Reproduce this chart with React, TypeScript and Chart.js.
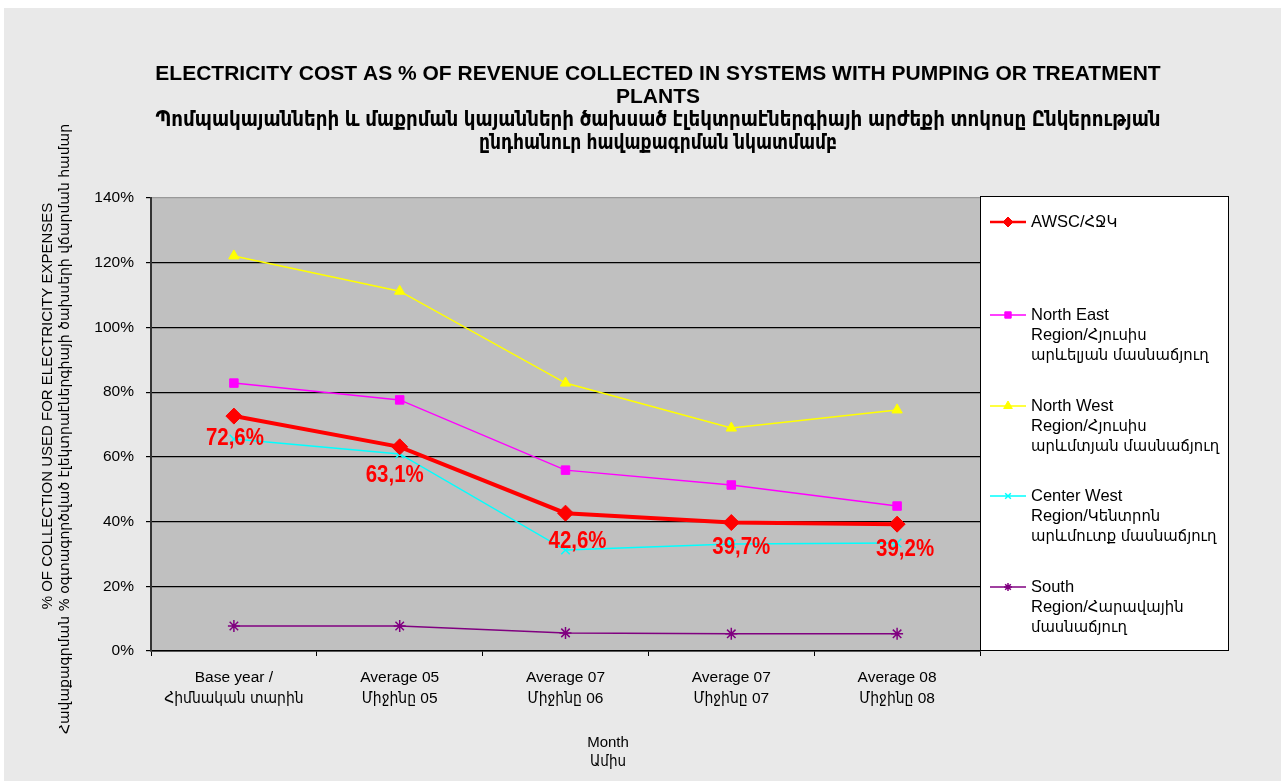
import React, { useEffect, useRef } from "react";
import { Chart, registerables } from "chart.js";
import { drawPoint } from "chart.js/helpers";

Chart.register(...registerables);

const categories: string[][] = [
  ["Base year /", "Հիմնական տարին"],
  ["Average 05", "Միջինը 05"],
  ["Average 07", "Միջինը 06"],
  ["Average 07", "Միջինը 07"],
  ["Average 08", "Միջինը 08"],
];

const awsc = [72.6, 63.1, 42.6, 39.7, 39.2];
const northEast = [82.8, 77.6, 55.9, 51.3, 44.8];
const northWest = [122.1, 111.2, 82.8, 68.9, 74.5];
const centerWest = [65.5, 60.9, 31.2, 33.1, 33.4];
const south = [7.7, 7.7, 5.6, 5.3, 5.3];

const yTicks = [0, 20, 40, 60, 80, 100, 120, 140];

const titleLines = [
  "ELECTRICITY COST AS % OF REVENUE COLLECTED IN SYSTEMS WITH PUMPING OR TREATMENT",
  "PLANTS",
  "Պոմպակայանների և մաքրման կայանների ծախսած էլեկտրաէներգիայի արժեքի տոկոսը Ընկերության",
  "ընդհանուր հավաքագրման նկատմամբ",
];
const yTitleLines = [
  "% OF COLLECTION USED FOR ELECTRICITY EXPENSES",
  "Հավաքագրման % օգտագործված էլեկտրաէներգիայի ծախսերի վճարման համար",
];
const xTitleLines = ["Month", "Ամիս"];

const legendLabels: string[][] = [
  ["AWSC/ՀՋԿ"],
  ["North East", "Region/Հյուսիս", "արևելյան մասնաճյուղ"],
  ["North West", "Region/Հյուսիս", "արևմտյան մասնաճյուղ"],
  ["Center West", "Region/Կենտրոն", "արևմուտք մասնաճյուղ"],
  ["South", "Region/Հարավային", "մասնաճյուղ"],
];

const FONT = "'Liberation Sans', 'DejaVu Sans Condensed', 'DejaVu Sans', sans-serif";
const ARM = "'DejaVu Sans', sans-serif";

const W = 1281;
const H = 781;

export default function App() {
  const ref = useRef<HTMLCanvasElement | null>(null);

  useEffect(() => {
    if (!ref.current) return;

    const decor = {
      id: "decor",
      beforeDraw(chart: any) {
        const { ctx, chartArea } = chart;
        ctx.save();
        ctx.fillStyle = "#ffffff";
        ctx.fillRect(0, 0, W, H);
        ctx.fillStyle = "#e9e9e9";
        ctx.fillRect(4, 8, W - 4, H - 8);
        ctx.fillStyle = "#c0c0c0";
        ctx.fillRect(chartArea.left, chartArea.top, chartArea.right - chartArea.left, chartArea.bottom - chartArea.top);
        ctx.restore();
      },
      afterDraw(chart: any) {
        const { ctx } = chart;
        ctx.save();
        // Title
        ctx.fillStyle = "#000";
        ctx.textAlign = "center";
        ctx.textBaseline = "middle";
        const ty = [74, 97, 120, 143];
        const tw = [1013, 0, 1005, 358];
        titleLines.forEach((t, i) => {
          ctx.font = `bold 21px ${FONT}`;
          if (tw[i]) ctx.fillText(t, 658, ty[i], tw[i]);
          else ctx.fillText(t, 658, ty[i]);
        });
        // Y title
        ctx.save();
        ctx.translate(48, 406);
        ctx.rotate(-Math.PI / 2);
        ctx.font = `15px 'Liberation Sans', Arial, sans-serif`;
        ctx.fillText(yTitleLines[0], 0, 0);
        ctx.font = `14px ${ARM}`;
        ctx.fillText(yTitleLines[1], -23, 17);
        ctx.restore();
        // X title
        ctx.font = `15px ${FONT}`;
        ctx.fillText(xTitleLines[0], 608, 743);
        ctx.fillText(xTitleLines[1], 608, 762);

        // Data labels for AWSC
        const meta = chart.getDatasetMeta(0);
        ctx.font = `bold 23px ${FONT}`;
        ctx.fillStyle = "#ff0000";
        const dx = [1, -5, 12, 10, 8];
        const dy = [23, 29, 28, 25, 25];
        meta.data.forEach((pt: any, i: number) => {
          ctx.fillText(awsc[i].toFixed(1).replace(".", ",") + "%", pt.x + dx[i], pt.y + dy[i], 58);
        });

        // Legend
        const lx = 980, ly = 196, lw = 248, lh = 454;
        ctx.fillStyle = "#ffffff";
        ctx.fillRect(lx, ly, lw, lh);
        ctx.strokeStyle = "#000";
        ctx.lineWidth = 1;
        ctx.strokeRect(lx + 0.5, ly + 0.5, lw, lh);
        const itemY = [222, 315, 406, 496, 587];
        const legendRadius = [5, 4.5, 5, 4, 4];
        chart.data.datasets.forEach((ds: any, i: number) => {
          const y = itemY[i];
          ctx.strokeStyle = ds.borderColor;
          ctx.lineWidth = i === 0 ? 2.5 : 1.5;
          ctx.beginPath();
          ctx.moveTo(990, y);
          ctx.lineTo(1026, y);
          ctx.stroke();
          ctx.fillStyle = ds.pointBackgroundColor;
          ctx.strokeStyle = ds.pointBorderColor;
          ctx.lineWidth = ds.pointBorderWidth ?? 1;
          drawPoint(ctx, {
            pointStyle: ds.pointStyle,
            radius: legendRadius[i],
            rotation: 0,
            borderWidth: ds.pointBorderWidth ?? 1,
          } as any, 1008, y);
          ctx.fillStyle = "#000";
          ctx.textAlign = "left";
          ctx.font = `16.5px ${FONT}`;
          legendLabels[i].forEach((l, j) => {
            ctx.fillText(l, 1031, y + j * 20);
          });
        });
        ctx.restore();
      },
    };

    const chart = new Chart(ref.current, {
      type: "line",
      data: {
        labels: categories,
        datasets: [
          {
            label: "AWSC",
            data: awsc,
            borderColor: "#ff0000",
            backgroundColor: "#ff0000",
            pointBackgroundColor: "#ff0000",
            pointBorderColor: "#ff0000",
            borderWidth: 4,
            pointStyle: "rectRot",
            pointRadius: 8,
            pointBorderWidth: 1,
            order: 0,
          },
          {
            label: "North East",
            data: northEast,
            borderColor: "#ff00ff",
            backgroundColor: "#ff00ff",
            pointBackgroundColor: "#ff00ff",
            pointBorderColor: "#ff00ff",
            borderWidth: 1.5,
            pointStyle: "rect",
            pointRadius: 6,
            pointBorderWidth: 1,
            order: 1,
          },
          {
            label: "North West",
            data: northWest,
            borderColor: "#ffff00",
            backgroundColor: "#ffff00",
            pointBackgroundColor: "#ffff00",
            pointBorderColor: "#ffff00",
            borderWidth: 1.5,
            pointStyle: "triangle",
            pointRadius: 6,
            pointBorderWidth: 1,
            order: 2,
          },
          {
            label: "Center West",
            data: centerWest,
            borderColor: "#00ffff",
            backgroundColor: "#00ffff",
            pointBackgroundColor: "#00ffff",
            pointBorderColor: "#00ffff",
            borderWidth: 1.5,
            pointStyle: "crossRot",
            pointRadius: 6,
            pointBorderWidth: 1.5,
            order: 3,
          },
          {
            label: "South",
            data: south,
            borderColor: "#800080",
            backgroundColor: "#800080",
            pointBackgroundColor: "#800080",
            pointBorderColor: "#800080",
            borderWidth: 1.5,
            pointStyle: "star",
            pointRadius: 6,
            pointBorderWidth: 1.5,
            order: 4,
          },
        ],
      },
      options: {
        responsive: false,
        animation: false,
        devicePixelRatio: 1,
        layout: { padding: { left: 0, right: W - 980, top: 198, bottom: 0 } },
        plugins: {
          legend: { display: false },
          title: { display: false },
          tooltip: { enabled: false },
        },
        scales: {
          x: {
            offset: true,
            grid: {
              offset: true,
              drawOnChartArea: false,
              drawTicks: true,
              tickLength: 5,
              color: "#000",
            },
            border: { color: "#000", width: 1.5 },
            ticks: {
              color: "#000",
              font: { family: FONT, size: 15.5, lineHeight: 1.3 },
              padding: 12,
              maxRotation: 0,
              autoSkip: false,
            },
            afterFit(scale: any) {
              scale.height = H - 651;
            },
          },
          y: {
            min: 0,
            max: 140,
            afterBuildTicks(scale: any) {
              scale.ticks = yTicks.map((v) => ({ value: v }));
            },
            grid: {
              color: (c: any) => (c.tick && c.tick.value === 140 ? "#999999" : "#000000"),
              tickColor: "#000",
              lineWidth: 1.2,
              drawTicks: true,
              tickLength: 5,
            },
            border: { color: "#333", width: 2 },
            ticks: {
              color: "#000",
              font: { family: FONT, size: 15.5 },
              padding: 12,
              callback: (v: any) => v + "%",
            },
            afterFit(scale: any) {
              scale.width = 151;
            },
          },
        },
      },
      plugins: [decor],
    });

    return () => chart.destroy();
  }, []);

  return (
    <div style={{ position: "fixed", left: 0, top: 0, width: W, height: H }}>
      <canvas ref={ref} width={W} height={H} style={{ width: W, height: H, display: "block" }} />
    </div>
  );
}
